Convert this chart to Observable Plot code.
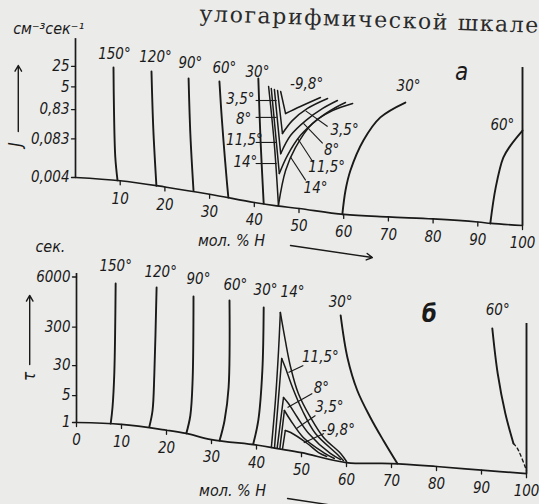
<!DOCTYPE html>
<html><head><meta charset="utf-8">
<script src="https://cdn.jsdelivr.net/npm/d3@7"></script>
<script src="https://cdn.jsdelivr.net/npm/@observablehq/plot@0.6"></script>
<style>
html,body{margin:0;padding:0;background:#ebebe9;}
#wrap{position:relative;width:539px;height:504px;overflow:hidden;background:#ebebe9;}
#top{position:absolute;left:200px;top:1px;font-family:"DejaVu Serif","Liberation Serif",serif;font-size:22px;letter-spacing:1.6px;color:#2a2a2a;transform:rotate(2deg);transform-origin:left top;white-space:nowrap;}
.panel{position:absolute;left:0;}
.panel svg{overflow:visible;}
</style></head><body>
<div id="wrap"><div id="top">улогарифмической шкале</div></div>
<script>
// ---------- Panel а : nucleation rate J (см^-3 сек^-1) vs мол.% H ----------
const xTicksA = [10, 20, 30, 40, 50, 60, 70, 80, 90, 100];
const yTicksA = [0.004, 0.083, 0.83, 5, 25];
const yTickLabelsA = ["0,004", "0,083", "0,83", "5", "25"];
const baselineA = [[0,0.004],[10,0.0031],[20,0.0019],[30,0.00107],[40,0.00056],[45,0.00043],[50,0.00035],[60,0.00022],[70,0.00018],[80,0.000154],[90,0.000121],[93,0.000108],[100,0.000092]];
const verticalsA = [
  {t:"150°", pts:[[8.5,22.7],[8.6,1.0],[8.9,0.02],[9.4,0.0032]]},
  {t:"120°", pts:[[17.0,16.6],[17.4,0.19],[18.1,0.0021]]},
  {t:"90°",  pts:[[25.3,9.6],[25.7,0.117],[26.4,0.00144]]},
  {t:"60°",  pts:[[32.2,7.6],[32.6,0.8],[33.1,0.073],[33.9,0.0025],[34.2,0.00083]]},
  {t:"30°",  pts:[[40.9,9.6],[41.4,0.073],[42.1,0.00052]]}
];
const clusterA = [
  {t:"14°",   left:[[43.2,5.1],[44.5,0.05],[45.4,0.00045]], right:[[45.4,0.00045],[47.0,0.0069],[49.2,0.042],[53.0,0.28],[57.5,0.77],[62.0,1.34]]},
  {t:"11,5°", left:[[43.8,4.36],[45.6,0.0055]], right:[[45.6,0.0055],[47.4,0.0225],[50.3,0.108],[54.4,0.41],[58.2,0.98],[60.4,1.45]]},
  {t:"8°",    left:[[44.5,4.03],[45.9,0.026]], right:[[45.9,0.026],[48.1,0.108],[51.5,0.35],[55.3,0.91],[58.6,1.70]]},
  {t:"3,5°",  left:[[45.2,3.72],[46.3,0.127]], right:[[46.3,0.127],[48.5,0.35],[51.9,0.91],[56.4,1.99]]},
  {t:"-9,8°", left:[[45.9,3.44],[47.0,0.61]], right:[[47.0,0.61],[50.3,1.06],[54.8,2.15]]}
];
const arcsA = [
  {t:"30°", pts:[[59.7,0.00022],[60.4,0.00144],[61.5,0.0069],[64.4,0.073],[68.2,0.45],[73.8,1.45]]},
  {t:"60°", pts:[[92.8,0.000108],[94.0,0.0018],[95.7,0.019],[97.3,0.049],[100,0.16]]}
];
const leadersA = [
  [[40.3,1.70],[45.0,1.70]], [[40.3,0.45],[45.0,0.45]], [[40.3,0.063],[45.0,0.063]], [[40.3,0.012],[45.0,0.012]],
  [[51.5,0.75],[56.4,0.22]], [[51.0,0.28],[55.3,0.058]], [[49.7,0.086],[53.2,0.013]], [[48.1,0.02],[51.5,0.0032]]
];
const labelsA = [
  ["150°",8.7,63],["120°",17.9,50],["90°",25.7,31],["60°",33.3,21],["30°",40.7,15.3],["-9,8°",51.7,6.0],
  ["30°",74.5,5.1],["60°",95.5,0.24],
  ["3,5°",36.9,1.84],["8°",37.6,0.38],["11,5°",37.8,0.073],["14°",38.0,0.013],
  ["3,5°",60.2,0.16],["8°",57.3,0.033],["11,5°",56.2,0.0088],["14°",53.7,0.0017]
];

// ---------- Panel б : induction time τ (сек.) vs мол.% H ----------
const xTicksB = [0, 10, 20, 30, 40, 50, 60, 70, 80, 90, 100];
const yTicksB = [1, 5, 30, 300, 6000];
const yTickLabelsB = ["1", "5", "30", "300", "6000"];
const baselineB = [[0,1],[10,0.89],[20,0.63],[24.4,0.52],[30,0.36],[40,0.26],[44.7,0.21],[50,0.165],[60,0.091],[70,0.086],[80,0.072],[90,0.058],[100,0.047]];
const verticalsB = [
  {t:"150°", pts:[[8.7,4074],[8.4,18.7],[8.0,2.45],[7.6,0.94]]},
  {t:"120°", pts:[[17.8,3208],[17.3,18.7],[16.9,2.05],[16.2,0.79]]},
  {t:"90°",  pts:[[26.0,1875],[25.8,12.3],[25.3,1.52],[24.4,0.52]]},
  {t:"60°",  pts:[[34.0,1475],[33.8,8.1],[32.9,1.13],[31.8,0.34]]},
  {t:"30°",  pts:[[41.6,970],[41.3,22.4],[40.4,1.13],[39.3,0.285]]}
];
const clusterB = [
  {t:"14°",   left:[[45.3,720],[44.9,74],[44.2,3.7],[43.3,0.225]], right:[[45.3,720],[46.4,135],[47.6,26.8],[49.3,5.66],[52.0,1.35],[54.9,0.408],[58.7,0.157],[60.0,0.097]]},
  {t:"11,5°", left:[[45.6,45.9],[44.0,0.222]], right:[[45.6,45.9],[46.4,26.8],[48.0,8.11],[50.2,2.05],[53.1,0.518],[58.0,0.148],[59.3,0.103]]},
  {t:"8°",    left:[[46.0,4.46],[44.6,0.22]], right:[[46.0,4.46],[47.1,3.12],[49.1,1.35],[51.6,0.518],[56.4,0.157],[58.7,0.109]]},
  {t:"3,5°",  left:[[46.2,2.05],[45.2,0.217]], right:[[46.2,2.05],[47.6,1.13],[50.4,0.408],[54.9,0.166],[57.3,0.116]]},
  {t:"-9,8°", left:[[46.4,0.62],[45.8,0.213]], right:[[46.4,0.62],[47.6,0.55],[51.3,0.285],[53.8,0.166],[55.6,0.131]]}
];
const arcsB = [
  {t:"30°", pts:[[58.7,601],[60.2,48.8],[62.4,6.78],[65.3,1.35],[68.2,0.341],[71.3,0.086]]},
  {t:"60°", pts:[[92.4,277],[93.6,18.7],[95.3,1.71],[97.1,0.285]]}
];
const dashedB = [{t:"60°", pts:[[97.1,0.285],[98.0,0.211],[100,0.057]]}];
const leadersB = [
  [[47.1,19.9],[50.4,30.3]], [[46.9,2.45],[52.4,5.66]], [[48.9,0.7],[53.1,1.52]], [[50.5,0.3],[55.0,0.52]]
];
const labelsB = [
  ["150°",8.7,11270],["120°",18.7,7870],["90°",27.1,5180],["60°",35.3,3615],["30°",42.0,2685],["14°",48.0,2380],
  ["30°",58.7,1309],["60°",93.6,811],
  ["11,5°",54.2,48.8],["8°",54.4,7.64],["3,5°",56.2,2.45],["-9,8°",58.2,0.62]
];

const INK = "#1a1a1a";
const FONT = "'DejaVu Sans Condensed','Liberation Sans Narrow','DejaVu Sans',sans-serif";
const tickShape = {draw(ctx, l) { ctx.moveTo(0, 0); ctx.lineTo(0, -l); }};
const flat = list => list.flatMap(c => c.pts.map(p => ({k: c.t, x: p[0], y: p[1]})));
const flatArms = list => list.flatMap(c => [
  ...c.left.map(p => ({k: c.t + "L", x: p[0], y: p[1]})),
  ...c.right.map(p => ({k: c.t + "R", x: p[0], y: p[1]}))
]);

function panel(c) {
  const tickRows = c.baseline.filter(d => c.xTicks.includes(d[0]));
  const txt = {fill: INK, fontStyle: "italic"};
  const ln = {x: "x", y: "y", z: "k", stroke: INK, strokeWidth: 1.9, curve: "catmull-rom"};
  const marks = [
    Plot.ruleX([0], {y1: c.yTicks[0], y2: c.axisTop, stroke: INK, strokeWidth: 1.7}),
    Plot.vector(c.yTicks, {x: () => 0, y: d => d, length: 4, rotate: -90, anchor: "start", shape: tickShape, stroke: INK, strokeWidth: 1.3}),
    Plot.text(c.yTicks, {x: () => 0, y: d => d, text: (d, i) => c.yTickLabels[i], dx: -6, textAnchor: "end", fontSize: 15, ...txt}),
    Plot.line(c.baseline, {x: d => d[0], y: d => d[1], stroke: INK, strokeWidth: 1.7, curve: "catmull-rom"}),
    Plot.vector(tickRows, {x: d => d[0], y: d => d[1], length: 4, rotate: 180, anchor: "start", shape: tickShape, stroke: INK, strokeWidth: 1.3}),
    Plot.text(tickRows, {x: d => d[0], y: d => d[1], text: d => String(d[0]), dy: 18, fontSize: 15, ...txt}),
    Plot.line(flat(c.verticals), ln),
    Plot.line(flatArms(c.cluster), {...ln, strokeWidth: 1.5}),
    Plot.line(flat(c.arcs), ln),
    Plot.ruleX([100], {y1: c.edge[0], y2: c.edge[1], stroke: INK, strokeWidth: 1.9}),
    Plot.link(c.leaders, {x1: d => d[0][0], y1: d => d[0][1], x2: d => d[1][0], y2: d => d[1][1], stroke: INK, strokeWidth: 1.1}),
    Plot.text(c.labels, {x: d => d[1], y: d => d[2], text: d => d[0], fontSize: 15, ...txt}),
    Plot.text([c.letter], {x: d => d[1], y: d => d[2], text: d => d[0], fontSize: 24, fontWeight: c.letterWeight, ...txt}),
    Plot.text([c.unit], {x: d => d[1], y: d => d[2], text: d => d[0], fontSize: 16, ...txt}),
    Plot.text([c.symbol], {x: d => d[1], y: d => d[2], text: d => d[0], fontSize: 17, rotate: -90, ...txt}),
    Plot.arrow([c.arrow], {x1: d => d[0], x2: d => d[0], y1: d => d[1], y2: d => d[2], stroke: INK, strokeWidth: 1.4, headLength: 7}),
    Plot.text([c.mol], {x: d => d[1], y: d => d[2], text: d => d[0], fontSize: 16, ...txt}),
    Plot.arrow([c.molArrow], {x1: d => d[0][0], y1: d => d[0][1], x2: d => d[1][0], y2: d => d[1][1], stroke: INK, strokeWidth: 1.4, headLength: 7})
  ];
  if (c.dashed) marks.push(Plot.line(flat(c.dashed), {...ln, strokeDasharray: "3,3", strokeWidth: 1.4}));
  const svg = Plot.plot({
    width: 539, height: c.height,
    marginLeft: c.marginLeft, marginRight: c.marginRight, marginTop: 0, marginBottom: 0,
    x: {domain: [0, 100], axis: null},
    y: {type: "log", domain: c.yDomain, range: c.yRange, axis: null},
    style: {fontFamily: FONT, fontStyle: "italic", background: "transparent", overflow: "visible", color: INK},
    marks
  });
  const div = document.createElement("div");
  div.className = "panel";
  div.style.top = c.top + "px";
  div.appendChild(svg);
  document.getElementById("wrap").appendChild(div);
}

panel({
  top: 0, height: 262, marginLeft: 75, marginRight: 17,
  yDomain: [0.004, 25], yRange: [177, 65.8], yTicks: yTicksA, yTickLabels: yTickLabelsA,
  axisTop: 220, baseline: baselineA, xTicks: xTicksA,
  verticals: verticalsA, cluster: clusterA, arcs: arcsA, edge: [0.000092, 22.7],
  leaders: leadersA, labels: labelsA,
  letter: ["а", 86.4, 15.3], letterWeight: "normal", unit: ["см⁻³сек⁻¹", -6.0, 486], symbol: ["J", -13.4, 0.053],
  arrow: [-12.8, 0.149, 26.6], mol: ["мол. % H", 34.9, 0.0000283], molArrow: [[48.1, 0.0000191], [66.4, 0.0000074]]
});

panel({
  top: 240, height: 264, marginLeft: 76, marginRight: 13,
  yDomain: [1, 6000], yRange: [182, 36.5], yTicks: yTicksB, yTickLabels: yTickLabelsB,
  axisTop: 7400, baseline: baselineB, xTicks: xTicksB,
  verticals: verticalsB, cluster: clusterB, arcs: arcsB, dashed: dashedB, edge: [0.047, 372],
  leaders: leadersB, labels: labelsB,
  letter: ["б", 78.4, 638], letterWeight: "bold", unit: ["сек.", -5.8, 37240], symbol: ["τ", -10.4, 15.7],
  arrow: [-10.4, 32, 1990], mol: ["мол. % H", 34.7, 0.0171], molArrow: [[46.9, 0.0106], [66.0, 0.0049]]
});
</script>
</body></html>
